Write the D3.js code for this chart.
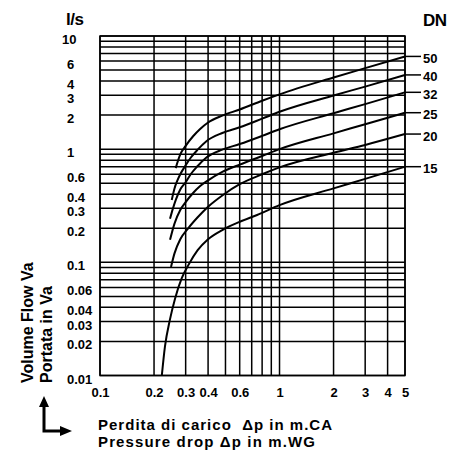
<!DOCTYPE html>
<html>
<head>
<meta charset="utf-8">
<script src="https://cdn.jsdelivr.net/npm/d3@7"></script>
<style>
body{margin:0;background:#fff}
text{font-family:"Liberation Sans",Arial,sans-serif}
</style>
</head>
<body>
<script>
// values: [pressure drop m, flow l/s]
const flow50 = [[0.264,0.68],[0.28,0.9],[0.3,1.07],[0.33,1.3],[0.36,1.5],[0.4,1.72],[0.48,1.98],[0.6,2.24],[0.8,2.68],[1,3.05],[2,4.3],[3,5.2],[5,6.6]]
const flow40 = [[0.251,0.356],[0.26,0.45],[0.27,0.53],[0.28,0.6],[0.3,0.72],[0.32,0.84],[0.35,0.99],[0.39,1.17],[0.48,1.39],[0.6,1.56],[0.8,1.86],[1,2.14],[2,2.98],[3,3.57],[5,4.53]]
const flow32 = [[0.2455,0.243],[0.255,0.3],[0.265,0.36],[0.28,0.44],[0.3,0.51],[0.32,0.6],[0.35,0.71],[0.39,0.84],[0.48,0.99],[0.6,1.11],[0.8,1.31],[1,1.5],[2,2.08],[3,2.5],[5,3.18]]
const flow25 = [[0.2455,0.158],[0.26,0.22],[0.28,0.29],[0.3,0.34],[0.33,0.41],[0.36,0.47],[0.4,0.53],[0.48,0.63],[0.6,0.73],[0.8,0.87],[1,1.0],[2,1.38],[3,1.66],[5,2.1]]
const flow20 = [[0.2486,0.091],[0.26,0.12],[0.28,0.16],[0.31,0.2],[0.35,0.25],[0.4,0.31],[0.48,0.39],[0.6,0.49],[0.8,0.6],[1,0.69],[2,0.93],[3,1.09],[5,1.36]]
const flow15 = [[0.221,0.01],[0.23,0.018],[0.245,0.031],[0.262,0.048],[0.285,0.072],[0.31,0.094],[0.35,0.128],[0.4,0.16],[0.48,0.193],[0.6,0.228],[0.75,0.262],[1,0.32],[2,0.45],[3,0.546],[5,0.7]]
const dnNames = ["50","40","32","25","20","15"]
const xLabels = [0.1,0.2,0.3,0.4,0.6,1,2,3,4,5]
const yLabels = [10,6,4,3,2,1,0.6,0.4,0.3,0.2,0.1,0.06,0.04,0.03,0.02,0.01]

const series=[flow50,flow40,flow32,flow25,flow20,flow15]

const W=455,H=455
const plot={l:100,r:405,t:36,b:375.5}
const svg=d3.select("body").append("svg").attr("width",W).attr("height",H)

let x=d3.scaleLog().domain([0.1,5]).range([plot.l,plot.r])
let y=d3.scaleLog().domain([0.01,10]).range([plot.b,plot.t])

//grid
const grid=svg.append("g").attr("stroke","#000").attr("stroke-width",1.5)
grid.selectAll(".vx").data(x.ticks()).join("line")
  .attr("x1",d=>x(d)).attr("x2",d=>x(d)).attr("y1",plot.t).attr("y2",plot.b)
grid.selectAll(".hy").data(y.ticks()).join("line")
  .attr("x1",plot.l).attr("x2",plot.r).attr("y1",d=>y(d)).attr("y2",d=>y(d))
svg.append("rect").attr("x",plot.l).attr("y",plot.t)
  .attr("width",plot.r-plot.l).attr("height",plot.b-plot.t)
  .attr("fill","none").attr("stroke","#000").attr("stroke-width",1.5)

//axes (labels only)
const fmt=d3.format("~g")
svg.append("g").attr("transform",`translate(0,${plot.b})`)
  .call(d3.axisBottom(x).tickValues(xLabels).tickFormat(fmt).tickSize(0))
  .call(g=>g.select(".domain").remove())
  .call(g=>g.selectAll("text").attr("y",21.5).attr("dy",null)
    .attr("font-size",13).attr("font-weight","bold").attr("fill","#000"))
svg.append("g").attr("transform",`translate(${plot.l},0)`)
  .call(d3.axisLeft(y).tickValues(yLabels).tickFormat(fmt).tickSize(0))
  .call(g=>g.select(".domain").remove())
  .call(g=>g.selectAll("text").attr("text-anchor","start")
    .attr("x",d=>d>=10?-38:-33).attr("dy",7.5)
    .attr("font-size",13).attr("font-weight","bold").attr("fill","#000"))

//curves
const line=d3.line().x(d=>x(d[0])).y(d=>y(d[1])).curve(d3.curveMonotoneX)
svg.append("g").selectAll("path").data(series).join("path")
  .attr("d",line).attr("fill","none").attr("stroke","#000").attr("stroke-width",2)

//DN labels
const lab=svg.append("g")
series.forEach((s,i)=>{
  let last=s[s.length-1]
  let yy=y(last[1])
  lab.append("line").attr("x1",plot.r).attr("x2",plot.r+16).attr("y1",yy).attr("y2",yy)
    .attr("stroke","#000").attr("stroke-width",1.5)
  lab.append("text").attr("x",plot.r+18).attr("y",yy+6.5).text(dnNames[i])
    .attr("font-size",13).attr("font-weight","bold")
})

svg.append("text").attr("x",66).attr("y",25).text("l/s")
  .attr("font-size",17).attr("font-weight","bold").attr("letter-spacing",-0.5)
svg.append("text").attr("x",423).attr("y",26).text("DN")
  .attr("font-size",17).attr("font-weight","bold").attr("letter-spacing",-0.5)

//y title
svg.append("text").attr("transform","translate(33,383) rotate(-90)").text("Volume Flow Va")
  .attr("font-size",16).attr("font-weight","bold")
svg.append("text").attr("transform","translate(52,383) rotate(-90)").text("Portata in Va")
  .attr("font-size",16).attr("font-weight","bold")

//arrow icon
const ic=svg.append("g").attr("stroke","#000").attr("stroke-width",3).attr("fill","none")
ic.append("path").attr("d","M44,405 V431 H62")
svg.append("path").attr("d","M39,407 L44,396 L49,407 Z M60,426 L72,431 L60,436 Z").attr("fill","#000")

//x title
svg.append("text").attr("x",98).attr("y",429.5).style("white-space","pre")
  .attr("textLength",234).attr("lengthAdjust","spacing")
  .text("Perdita di carico  \u0394p in m.CA").attr("font-size",15).attr("font-weight","bold")
svg.append("text").attr("x",98).attr("y",446.5).style("white-space","pre")
  .attr("textLength",217).attr("lengthAdjust","spacing")
  .text("Pressure drop \u0394p in m.WG").attr("font-size",15).attr("font-weight","bold")
</script>
</body>
</html>
